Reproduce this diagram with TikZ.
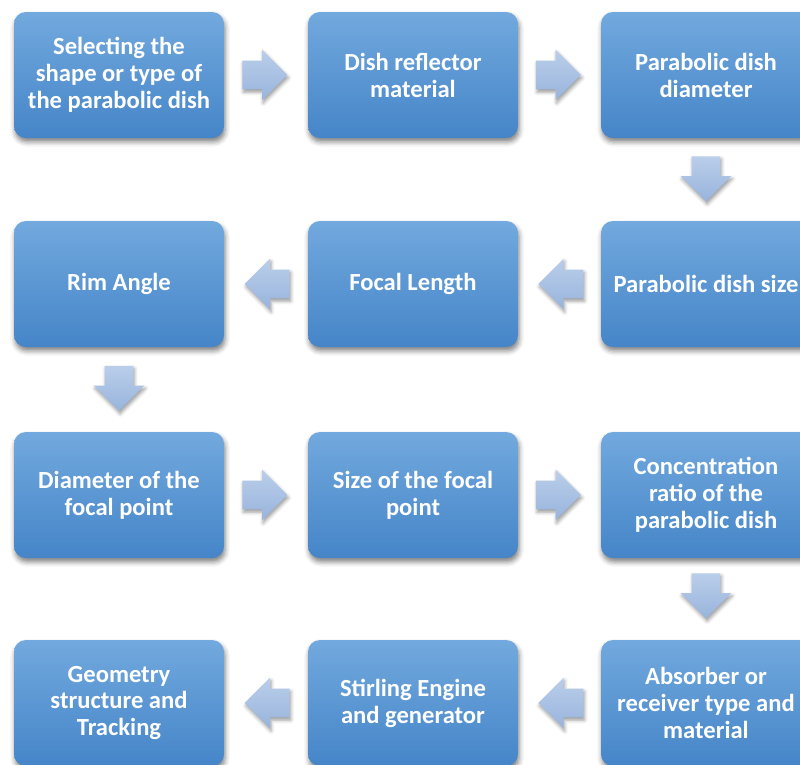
\documentclass[tikz,border=0pt]{standalone}
\usepackage{fontspec}
\setmainfont{Carlito}
\usetikzlibrary{shapes.arrows,shadows.blur}
\definecolor{boxtop}{HTML}{72A9DE}
\definecolor{boxbot}{HTML}{4585C8}
\definecolor{arrtop}{HTML}{BACEEA}
\definecolor{arrbot}{HTML}{98B4DC}
\begin{document}
\begin{tikzpicture}[
  stage/.style={rectangle,rounded corners=8.5pt,minimum width=5.25cm,minimum height=3.15cm,
    top color=boxtop,bottom color=boxbot,text=white,align=center,
    font=\fontsize{17.5}{19.2}\selectfont\bfseries,
    blur shadow={shadow xshift=0.8pt,shadow yshift=-2.8pt,shadow blur radius=3.5pt,shadow opacity=50}},
  flow/.style={single arrow,minimum height=1.125cm,minimum width=0pt,
    single arrow head extend=0.275cm,inner sep=0.35cm,anchor=tail,
    top color=arrtop,bottom color=arrbot,
    blur shadow={shadow xshift=0.8pt,shadow yshift=-2pt,shadow blur radius=2.5pt,shadow opacity=40}}
]
%\draw[step=1cm,gray,very thin] (0,-19) grid (20,0);
\clip (0,0) rectangle (20,-19.1);
% row 1
\node[stage] (sel)  at (2.975,-1.875)  {Selecting the\\shape or type of\\the parabolic dish};
\node[stage] (mat)  at (10.325,-1.875) {Dish reflector\\material};
\node[stage] (diam) at (17.65,-1.875)  {Parabolic dish\\diameter};
% row 2
\node[stage] (rim)   at (2.975,-7.1)  {Rim Angle};
\node[stage] (focal) at (10.325,-7.1) {Focal Length};
\node[stage] (size)  at (17.65,-7.1)  {Parabolic dish size};
% row 3
\node[stage] (fpdiam) at (2.975,-12.375)  {Diameter of the\\focal point};
\node[stage] (fpsize) at (10.325,-12.375) {Size of the focal\\point};
\node[stage] (conc)   at (17.65,-12.375)  {Concentration\\ratio of the\\parabolic dish};
% row 4
\node[stage] (geom)   at (2.975,-17.575)  {Geometry\\structure and\\Tracking};
\node[stage] (engine) at (10.325,-17.575) {Stirling Engine\\and generator};
\node[stage] (absorb) at (17.65,-17.575)  {Absorber or\\receiver type and\\material};
% arrows (placed by their tails)
\node[flow] (a1) at (6.05,-1.875) {};
\node[flow] (a2) at (13.39,-1.875) {};
\node[flow,shape border rotate=270] (a3) at (17.65,-3.9) {};
\node[flow,shape border rotate=180] (a4) at (14.59,-7.1) {};
\node[flow,shape border rotate=180] (a5) at (7.25,-7.1) {};
\node[flow,shape border rotate=270] (a6) at (2.975,-9.14) {};
\node[flow] (a7) at (6.05,-12.375) {};
\node[flow] (a8) at (13.39,-12.375) {};
\node[flow,shape border rotate=270] (a9) at (17.65,-14.325) {};
\node[flow,shape border rotate=180] (a10) at (14.59,-17.575) {};
\node[flow,shape border rotate=180] (a11) at (7.25,-17.575) {};
\end{tikzpicture}
\end{document}
